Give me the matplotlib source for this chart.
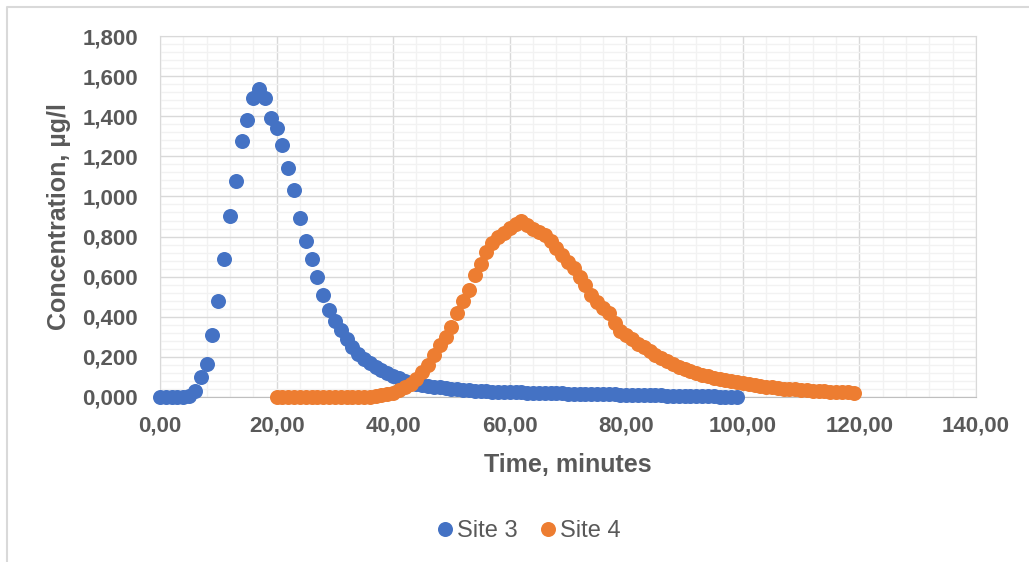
import numpy as np
import matplotlib
matplotlib.use("Agg")
import matplotlib.pyplot as plt
from matplotlib.ticker import MultipleLocator, FuncFormatter
from matplotlib.lines import Line2D

# =============================================================================
#                               Data
# =============================================================================
t_site3 = list(range(0, 100))
c_site3 = [0.0, 0.0, 0.0, 0.0, 0.0, 0.005, 0.03, 0.10, 0.165, 0.31,
           0.48, 0.69, 0.90, 1.075, 1.275, 1.38, 1.49, 1.535, 1.49, 1.39,
           1.34, 1.255, 1.14, 1.03, 0.895, 0.78, 0.69, 0.60, 0.51, 0.435,
           0.38, 0.335, 0.29, 0.25, 0.215, 0.19, 0.17, 0.152, 0.135, 0.118,
           0.105, 0.093, 0.082, 0.072, 0.065, 0.06, 0.055, 0.052, 0.05, 0.045,
           0.042, 0.038, 0.036, 0.034, 0.032, 0.03, 0.028, 0.027, 0.026, 0.025,
           0.024, 0.024, 0.023, 0.022, 0.022, 0.021, 0.020, 0.020, 0.019, 0.018,
           0.017, 0.017, 0.016, 0.016, 0.015, 0.014, 0.014, 0.013, 0.013, 0.012,
           0.011, 0.011, 0.010, 0.010, 0.009, 0.008, 0.008, 0.007, 0.007, 0.006,
           0.005, 0.005, 0.004, 0.004, 0.003, 0.003, 0.002, 0.002, 0.001, 0.001]

t_site4 = list(range(20, 120))
c_site4 = [0.0, 0.0, 0.0, 0.0, 0.0, 0.0, 0.0, 0.0, 0.0, 0.0,
           0.0, 0.0, 0.0, 0.0, 0.0, 0.0, 0.0, 0.003, 0.008, 0.013,
           0.022, 0.034, 0.05, 0.067, 0.09, 0.125, 0.16, 0.21, 0.26, 0.30,
           0.35, 0.42, 0.48, 0.535, 0.607, 0.665, 0.725, 0.77, 0.80, 0.82,
           0.845, 0.865, 0.88, 0.86, 0.84, 0.825, 0.81, 0.78, 0.745, 0.71,
           0.675, 0.645, 0.60, 0.56, 0.51, 0.475, 0.445, 0.42, 0.37, 0.33,
           0.31, 0.29, 0.265, 0.25, 0.23, 0.21, 0.195, 0.18, 0.165, 0.15,
           0.14, 0.13, 0.12, 0.11, 0.105, 0.097, 0.092, 0.086, 0.08, 0.075,
           0.07, 0.065, 0.06, 0.056, 0.052, 0.048, 0.045, 0.042, 0.04, 0.038,
           0.036, 0.034, 0.032, 0.03, 0.029, 0.027, 0.026, 0.025, 0.024, 0.022]

labels = ["Site 3", "Site 4"]
colors = ["#4472C4", "#ED7D31"]

# =============================================================================
#                               Plot
# =============================================================================
plt.rcParams['font.family'] = ['Liberation Sans', 'DejaVu Sans']
grey = "#595959"

W, H = 1029, 562
fig = plt.figure(figsize=(W/100, H/100), dpi=100)
ax = fig.add_axes([160/W, 1-397/H, (976-160)/W, (397-36)/H])

ax.plot(t_site3, c_site3, 'o', ms=10.8, color=colors[0], mew=0, zorder=3, clip_on=False)
ax.plot(t_site4, c_site4, 'o', ms=10.8, color=colors[1], mew=0, zorder=4, clip_on=False)

ax.set_xlim(0, 140)
ax.set_ylim(0, 1.8)
ax.xaxis.set_major_locator(MultipleLocator(20))
ax.xaxis.set_minor_locator(MultipleLocator(4))
ax.yaxis.set_major_locator(MultipleLocator(0.2))
ax.yaxis.set_minor_locator(MultipleLocator(0.04))
ax.xaxis.set_major_formatter(FuncFormatter(lambda v, p: f"{v:.2f}".replace(".", ",")))
ax.yaxis.set_major_formatter(FuncFormatter(lambda v, p: f"{v:.3f}".replace(".", ",")))

ax.grid(which='minor', color="#F2F2F2", lw=1.0, zorder=0)
ax.grid(which='major', color="#D9D9D9", lw=1.0, zorder=1)
ax.set_axisbelow(True)
ax.tick_params(which='both', length=0)
ax.tick_params(axis='x', pad=13, labelsize=16, labelcolor=grey)
ax.tick_params(axis='y', pad=16, labelsize=16, labelcolor=grey)
for lab in ax.get_xticklabels() + ax.get_yticklabels():
    lab.set_fontweight('bold')
for s in ax.spines.values():
    s.set_color("#D9D9D9")
ax.spines['bottom'].set_color("#BFBFBF")

ax.set_xlabel("Time, minutes", fontsize=18, fontweight='bold', color=grey, labelpad=12)
ax.set_ylabel("Concentration, µg/l", fontsize=18, fontweight='bold', color=grey, labelpad=8)

handles = [Line2D([], [], ls='none', marker='o', ms=10.8, mew=0, color=c) for c in colors]
fig.legend(handles, labels, loc='center', bbox_to_anchor=(529/W, 1-531/H), ncol=2,
           frameon=False, fontsize=17, labelcolor=grey, handlelength=0.6,
           handletextpad=0.2, columnspacing=1.0)

# chart frame (only top/left visible in the crop)
fig.add_artist(Line2D([7/W, 7/W, 1], [0, 1-7/H, 1-7/H], color="#D9D9D9", lw=1.5))

fig.savefig("out.png", dpi=100)
